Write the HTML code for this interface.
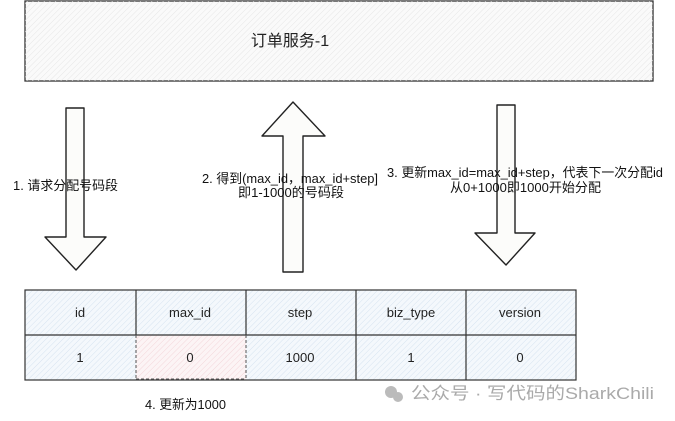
<!DOCTYPE html>
<html><head><meta charset="utf-8"><style>
html,body{margin:0;padding:0;background:#fff;}
body{width:675px;height:421px;overflow:hidden;position:relative;font-family:"Liberation Sans","Noto Sans CJK SC",sans-serif;}
</style></head><body>
<svg width="675" height="421" viewBox="0 0 675 421" xmlns="http://www.w3.org/2000/svg" style="position:absolute;left:0;top:0">
<defs>
<pattern id="h" width="4" height="4" patternUnits="userSpaceOnUse" patternTransform="rotate(45)">
<line x1="0" y1="0" x2="0" y2="4" stroke="#e6e6e6" stroke-width="1"/></pattern>
<pattern id="hb" width="4" height="4" patternUnits="userSpaceOnUse" patternTransform="rotate(45)">
<rect width="4" height="4" fill="#f4f8fc"/><line x1="0" y1="0" x2="0" y2="4" stroke="#d6e3f0" stroke-width="1"/></pattern>
<pattern id="hr" width="4" height="4" patternUnits="userSpaceOnUse" patternTransform="rotate(45)">
<rect width="4" height="4" fill="#fcf4f5"/><line x1="0" y1="0" x2="0" y2="4" stroke="#f3d6da" stroke-width="1"/></pattern>
</defs>
<rect x="25" y="1" width="628" height="80" fill="#fafafa" stroke="#333" stroke-width="1.3"/>
<rect x="25" y="1" width="628" height="80" fill="url(#h)"/>
<text x="290" y="46" font-size="16" text-anchor="middle" fill="#222">订单服务-1</text>
<g fill="#fcfcfa" stroke="#222" stroke-width="1.4" stroke-linejoin="round">
<polygon points="66,108 84,108 84,237 106,237 76,270 45,237 66,237"/>
<polygon points="293,102 325,136 303,136 303,272 283,272 283,136 262,136"/>
<polygon points="497,105 515,105 515,233 535,233 506,265 475,233 497,233"/>
</g>
<g font-size="13" fill="#111">
<text x="13" y="190" textLength="105" lengthAdjust="spacingAndGlyphs">1. 请求分配号码段</text>
<text x="202" y="183" textLength="176" lengthAdjust="spacingAndGlyphs">2. 得到(max_id，max_id+step]</text>
<text x="238" y="197" textLength="106" lengthAdjust="spacingAndGlyphs">即1-1000的号码段</text>
<text x="387" y="177" textLength="276" lengthAdjust="spacingAndGlyphs">3. 更新max_id=max_id+step，代表下一次分配id</text>
<text x="450" y="192" textLength="151" lengthAdjust="spacingAndGlyphs">从0+1000即1000开始分配</text>
</g>
<rect x="25" y="290" width="551" height="90" fill="url(#hb)"/>
<rect x="136" y="335" width="110" height="45" fill="url(#hr)"/>
<g stroke="#333" stroke-width="1.2" fill="none">
<rect x="25" y="290" width="551" height="90"/>
<line x1="25" y1="335" x2="576" y2="335"/>
<line x1="136" y1="290" x2="136" y2="335"/>
<line x1="246" y1="290" x2="246" y2="335"/>
<line x1="356" y1="290" x2="356" y2="380"/>
<line x1="466" y1="290" x2="466" y2="380"/>
</g>
<g stroke="#555" stroke-width="1" stroke-dasharray="3,2">
<line x1="136" y1="335" x2="136" y2="380"/>
<line x1="246" y1="335" x2="246" y2="380"/>
<line x1="136" y1="379" x2="246" y2="379"/>
</g>
<g font-size="13" fill="#222" text-anchor="middle">
<text x="80" y="317">id</text><text x="190" y="317">max_id</text><text x="300" y="317">step</text><text x="411" y="317">biz_type</text><text x="520" y="317">version</text>
<text x="80" y="362">1</text><text x="190" y="362">0</text><text x="300" y="362">1000</text><text x="411" y="362">1</text><text x="520" y="362">0</text>
</g>
<text x="145" y="409" font-size="13" fill="#111" textLength="81" lengthAdjust="spacingAndGlyphs">4. 更新为1000</text>
<circle cx="391" cy="392" r="6" fill="#bbb"/><circle cx="398" cy="397" r="5" fill="#bbb"/>
<text x="411" y="399" font-size="17" fill="#aaa" textLength="243" lengthAdjust="spacingAndGlyphs">公众号 · 写代码的SharkChili</text>
</svg>
</body></html>
